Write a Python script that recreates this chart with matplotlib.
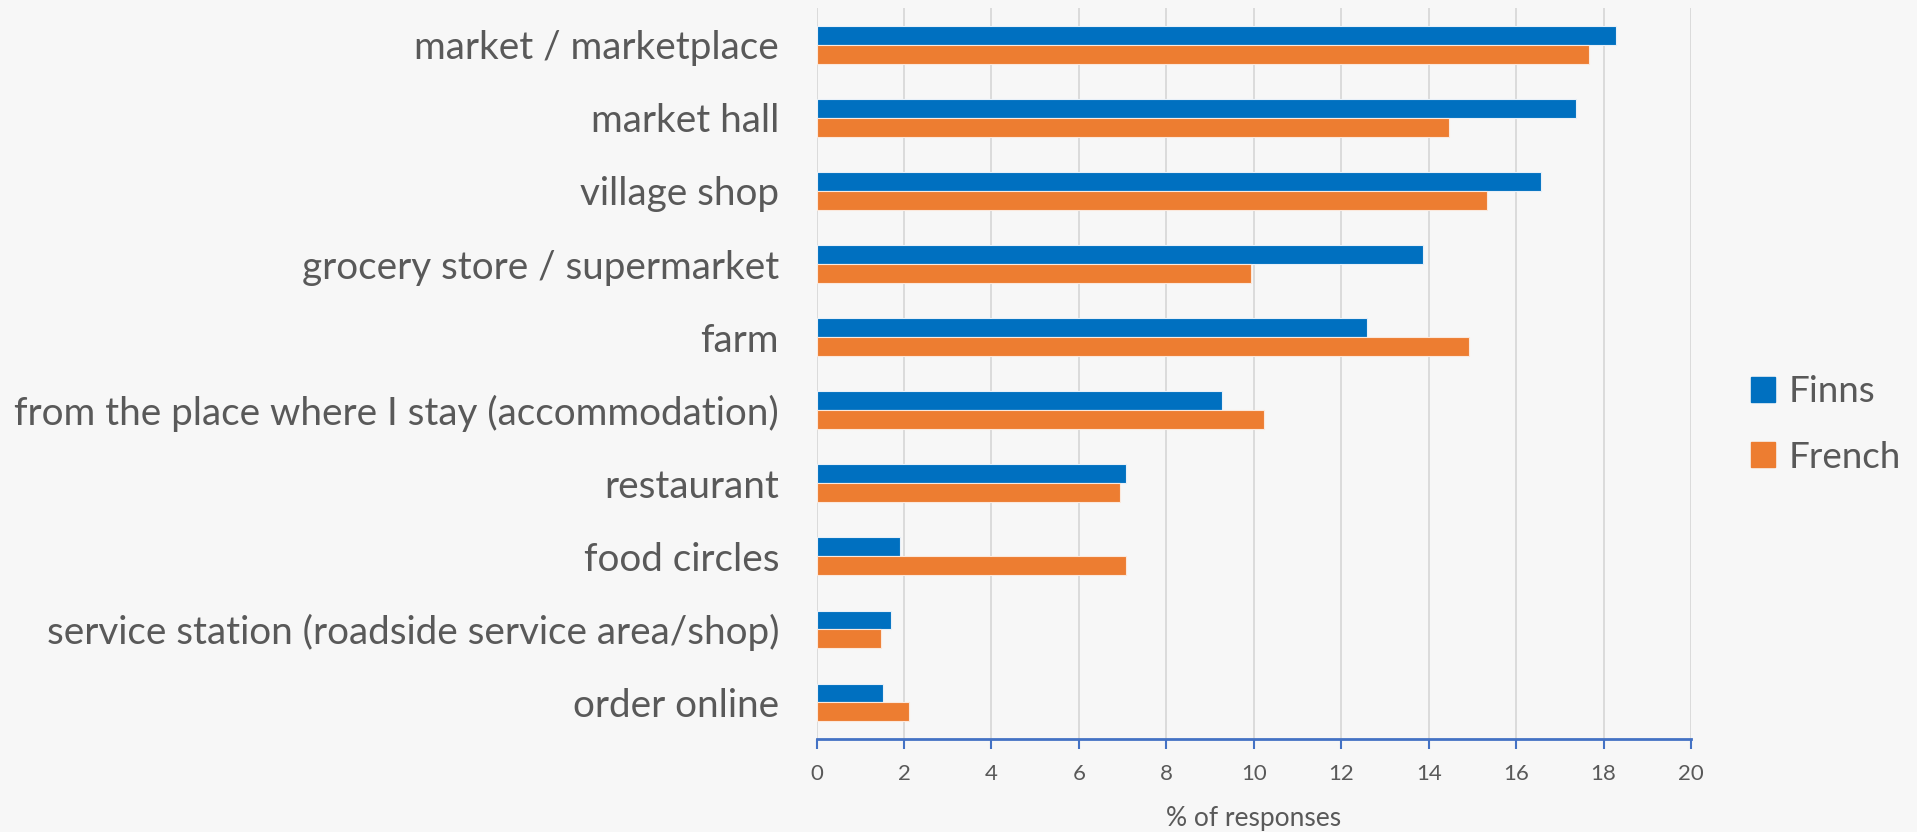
import matplotlib
matplotlib.use("Agg")
import matplotlib.pyplot as plt
from matplotlib.patches import Patch
import numpy as np

categories = [
    "market / marketplace",
    "market hall",
    "village shop",
    "grocery store / supermarket",
    "farm",
    "from the place where I stay (accommodation)",
    "restaurant",
    "food circles",
    "service station (roadside service area/shop)",
    "order online",
]
finns = [18.29, 17.37, 16.56, 13.88, 12.59, 9.27, 7.07, 1.91, 1.70, 1.52]
french = [17.67, 14.47, 15.33, 9.93, 14.92, 10.24, 6.94, 7.07, 1.47, 2.12]
series_names = ["Finns", "French"]
xticks = list(range(0, 21, 2))
xlabel = "% of responses"

C_FINNS = "#0070C0"
C_FRENCH = "#ED7D31"
TXT = "#595959"
FONT = ["Lato", "DejaVu Sans"]
plt.rcParams["font.family"] = FONT

fig = plt.figure(figsize=(19.17, 8.32), dpi=100)
fig.patch.set_facecolor("#f7f7f7")
ax = fig.add_axes([816.5 / 1917, 1 - 739 / 832, (1691 - 816.5) / 1917, (739 - 8.3) / 832])
ax.set_facecolor("none")

y = np.arange(len(categories))
h = 0.258
ax.barh(y - h / 2, finns, height=h, color=C_FINNS, edgecolor="#e8f0f8", linewidth=0.8, zorder=3)
ax.barh(y + h / 2, french, height=h, color=C_FRENCH, edgecolor="#fbe8dc", linewidth=0.8, zorder=3)

ax.set_ylim(len(categories) - 0.5, -0.5)
ax.set_xlim(0, 20)
ax.set_yticks(y)
ax.set_yticklabels(categories, fontsize=27.8, color=TXT)
ax.tick_params(axis="y", length=0, pad=27)
ax.set_xticks(xticks)
ax.set_xticklabels([str(t) for t in xticks], fontsize=16, color=TXT)
ax.tick_params(axis="x", direction="out", length=7, width=1.5, color="#4472C4", pad=11)
ax.set_xlabel(xlabel, fontsize=19, color=TXT, labelpad=16)

ax.grid(axis="x", color="#d9d9d9", linewidth=1.3, zorder=0)
for s in ["top", "right", "left"]:
    ax.spines[s].set_visible(False)
ax.spines["bottom"].set_color("#4472C4")
ax.spines["bottom"].set_linewidth(2)

handles = [Patch(color=C_FINNS), Patch(color=C_FRENCH)]
leg = fig.legend(handles, series_names, loc="center left",
                 bbox_to_anchor=(1751 / 1917, 1 - 424.5 / 832),
                 frameon=False, fontsize=26.5, handlelength=0.65, handleheight=0.65,
                 handletextpad=0.38, labelspacing=0.88, borderaxespad=0, borderpad=0)
for t in leg.get_texts():
    t.set_color(TXT)

fig.savefig("out.png", dpi=100, facecolor=fig.get_facecolor())
